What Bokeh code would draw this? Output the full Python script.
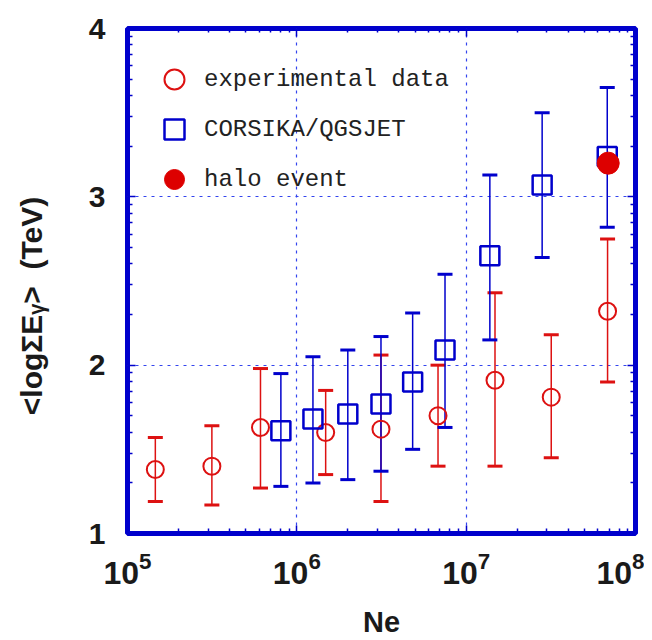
import math
from bokeh.plotting import figure
from bokeh.models import (ColumnDataSource, Whisker, TeeHead, FixedTicker,
                          LogAxis, LinearAxis, Legend, LegendItem)
from bokeh.embed import file_html
from bokeh.resources import INLINE

# ---------------- data ----------------
exp_ne = [1.46e5, 3.15e5, 6.1e5, 1.48e6, 3.14e6, 6.82e6, 1.48e7, 3.18e7, 6.84e7]
exp_y = [1.38, 1.40, 1.63, 1.60, 1.62, 1.70, 1.91, 1.81, 2.32]
exp_hi = [1.57, 1.64, 1.98, 1.85, 2.06, 2.00, 2.43, 2.18, 2.75]
exp_lo = [1.19, 1.17, 1.27, 1.35, 1.19, 1.40, 1.40, 1.45, 1.90]

sim_ne = [8.05e5, 1.245e6, 2.0e6, 3.14e6, 4.83e6, 7.5e6, 1.38e7, 2.81e7, 6.81e7]
sim_y = [1.61, 1.68, 1.71, 1.77, 1.90, 2.09, 2.65, 3.07, 3.24]
sim_hi = [1.95, 2.05, 2.09, 2.17, 2.31, 2.54, 3.13, 3.50, 3.65]
sim_lo = [1.28, 1.30, 1.32, 1.37, 1.50, 1.63, 2.15, 2.64, 2.82]

halo_ne = [6.9e7]
halo_y = [3.20]

x_major = [1e5, 1e6, 1e7, 1e8]
y_major = [1, 2, 3, 4]

labels = ["experimental data", "CORSIKA/QGSJET", "halo event"]

RED = "#dd1111"
BLUE = "#0000cc"
TXT = "#1a1a1a"

p = figure(width=644, height=640, x_axis_type="log", x_range=(1e5, 1e8), y_range=(1, 4),
           output_backend="svg", toolbar_location=None,
           min_border_left=127, min_border_top=28, min_border_right=9, min_border_bottom=105)

xa = p.below[0]
ya = p.left[0]

x_minor = [k * 10 ** n for n in range(5, 8) for k in range(2, 10)]
y_minor = [n + math.log10(k) for n in range(1, 4) for k in range(2, 10)]
xt = FixedTicker(ticks=x_major, minor_ticks=x_minor)
yt = FixedTicker(ticks=y_major, minor_ticks=y_minor)

xa.ticker = xt
ya.ticker = yt
p.xgrid[0].ticker = FixedTicker(ticks=x_major[1:-1])
p.ygrid[0].ticker = FixedTicker(ticks=y_major[1:-1])
for g in (p.xgrid[0], p.ygrid[0]):
    g.grid_line_color = "#3344ee"
    g.grid_line_width = 1.2
    g.grid_line_dash = "3 5"

top = LogAxis(ticker=xt, major_label_overrides={t: "" for t in x_major})
right = LinearAxis(ticker=yt, major_label_overrides={t: "" for t in y_major})
p.add_layout(top, "above")
p.add_layout(right, "right")

for ax in (xa, ya, top, right):
    ax.axis_line_color = None
    ax.major_tick_line_color = BLUE
    ax.minor_tick_line_color = BLUE
    ax.major_tick_line_width = 1.5
    ax.minor_tick_line_width = 1.5
    ax.major_tick_out = 0
    ax.minor_tick_out = 0
    ax.major_tick_in = 8
    ax.minor_tick_in = 5
for ax in (top, right):
    ax.major_label_standoff = 0
    ax.major_label_text_font_size = "1px"
top.minor_tick_in = 4

xa.major_label_text_font = "Liberation Sans"
xa.major_label_text_font_style = "bold"
xa.major_label_text_font_size = "32px"
xa.major_label_text_color = TXT
xa.major_label_standoff = 18
xa.axis_label = "Ne"
xa.axis_label_text_font = "Liberation Sans"
xa.axis_label_text_font_style = "bold"
xa.axis_label_text_font_size = "29px"
xa.axis_label_text_color = TXT
xa.axis_label_standoff = 19

ya.major_label_text_font = "Liberation Sans"
ya.major_label_text_font_style = "bold"
ya.major_label_text_font_size = "30px"
ya.major_label_text_color = TXT
ya.major_label_text_baseline = "alphabetic"
ya.major_label_standoff = 22
ya.axis_label = "<logΣEᵧ>\u00a0\u00a0(TeV)" + "\u00a0" * 6
ya.axis_label_text_font = "Liberation Sans"
ya.axis_label_text_font_style = "bold"
ya.axis_label_text_font_size = "30px"
ya.axis_label_text_color = TXT
ya.axis_label_standoff = 38

p.outline_line_color = BLUE
p.outline_line_width = 5
p.outline_line_alpha = 1

exp_src = ColumnDataSource(dict(x=exp_ne, y=exp_y, hi=exp_hi, lo=exp_lo))
sim_src = ColumnDataSource(dict(x=sim_ne, y=sim_y, hi=sim_hi, lo=sim_lo))
halo_src = ColumnDataSource(dict(x=halo_ne, y=halo_y))

for src, col in ((exp_src, RED), (sim_src, BLUE)):
    w = Whisker(source=src, base="x", upper="hi", lower="lo",
                line_color=col, line_width=1.5,
                upper_head=TeeHead(size=15, line_color=col, line_width=3),
                lower_head=TeeHead(size=15, line_color=col, line_width=3))
    p.add_layout(w)

r_exp = p.scatter("x", "y", source=exp_src, marker="circle", size=17,
                  fill_color=None, line_color=RED, line_width=2)
r_sim = p.scatter("x", "y", source=sim_src, marker="square", size=19,
                  fill_color=None, line_color=BLUE, line_width=2.5)
r_halo = p.scatter("x", "y", source=halo_src, marker="circle", size=22,
                   fill_color="#dd0000", line_color="#dd0000", line_width=1)

legend = Legend(items=[LegendItem(label=labels[0], renderers=[r_exp]),
                       LegendItem(label=labels[1], renderers=[r_sim]),
                       LegendItem(label=labels[2], renderers=[r_halo])],
                location=(21, 329), glyph_width=52, glyph_height=50, spacing=0,
                padding=0, margin=0, label_standoff=4,
                label_text_font="Liberation Mono", label_text_font_size="24px",
                label_text_color="#222222", border_line_color=None,
                background_fill_alpha=0)
p.add_layout(legend)

open("out.html", "w").write(file_html(p, INLINE))
